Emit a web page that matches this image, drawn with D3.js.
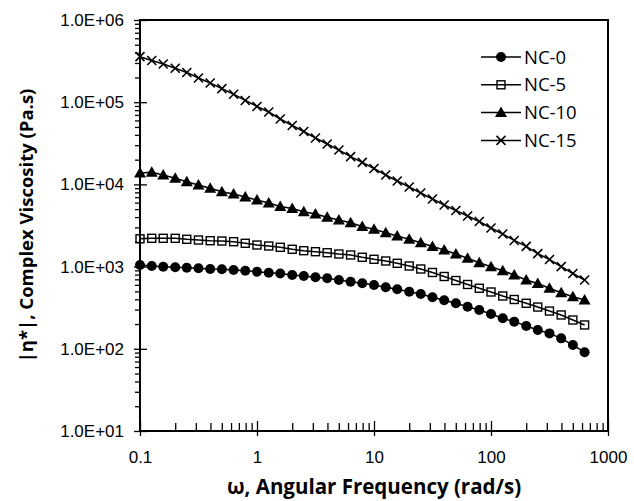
<!DOCTYPE html>
<html>
<head>
<meta charset="utf-8">
<style>
    body { margin: 0; background: #fff; }
    svg { display: block; font-family: "Open Sans", sans-serif; }
    .tick text { font-size: 17px; fill: #000; }
    .domain { display: none; }
    .tick line { stroke: #000; stroke-width: 1.3; }
    .legend text { font-size: 18.5px; }
    .axis-title { font-size: 18.5px; font-weight: bold; }
    .x-title { font-size: 20.5px; }
</style>
</head>
<body>
<svg width="634" height="501"></svg>
<script src="https://d3js.org/d3.v7.min.js"></script>
<script>
    // angular frequency, rad/s
    let omega = [0.1, 0.126, 0.158, 0.2, 0.251, 0.316, 0.398, 0.501, 0.631, 0.794,
        1, 1.26, 1.58, 2, 2.51, 3.16, 3.98, 5.01, 6.31, 7.94,
        10, 12.6, 15.8, 20, 25.1, 31.6, 39.8, 50.1, 63.1, 79.4,
        100, 126, 158, 200, 251, 316, 398, 501, 631]

    // complex viscosity, Pa.s
    let nc0 = [1046, 1017, 997, 981, 970, 954, 935, 927, 909, 892,
        867, 843, 824, 790, 768, 741, 721, 687, 655, 626,
        597, 560, 529, 495, 464, 423, 389, 358, 325, 296,
        265, 235, 214, 189, 169, 154, 134, 111, 91]
    let nc5 = [2178, 2209, 2209, 2209, 2148, 2106, 2066, 2048, 2009, 1921,
        1831, 1781, 1717, 1624, 1561, 1518, 1476, 1423, 1384, 1298,
        1227, 1170, 1097, 1017, 935, 848, 758, 677, 606, 545,
        491, 439, 398, 358, 322, 288, 258, 224, 195]
    let nc10 = [13760, 14040, 13010, 11870, 10790, 9833, 8965, 8150, 7642, 7026,
        6460, 5938, 5385, 5091, 4655, 4363, 3979, 3688, 3421, 3074,
        2843, 2584, 2357, 2148, 1953, 1756, 1592, 1423, 1262, 1115,
        997, 892, 790, 687, 623, 545, 481, 430, 392]
    let nc15 = [358000, 322000, 292000, 259000, 230000, 197000, 171000, 146000, 125000, 105000,
        88700, 76000, 62500, 52100, 44000, 36700, 31000, 26200, 21800, 18500,
        15600, 13000, 11000, 9300, 7860, 6650, 5620, 4810, 4130, 3540,
        2950, 2490, 2080, 1760, 1440, 1220, 1000, 824, 687]

    let seriesNames = ["NC-0", "NC-5", "NC-10", "NC-15"]
    let seriesValues = [nc0, nc5, nc10, nc15]
    let seriesMarkers = ["circle", "square", "triangle", "cross"]

    let xTicks = [0.1, 1, 10, 100, 1000]
    let xTickLabels = ["0.1", "1", "10", "100", "1000"]
    let yTicks = [1e1, 1e2, 1e3, 1e4, 1e5, 1e6]
    let yTickLabels = ["1.0E+01", "1.0E+02", "1.0E+03", "1.0E+04", "1.0E+05", "1.0E+06"]

    let margin = { top: 20, right: 26, bottom: 70, left: 140 }
    let width = 634
    let height = 501

    let svg = d3.select("svg")

    let x = d3.scaleLog()
        .domain([0.1, 1000])
        .range([margin.left, width - margin.right])

    let y = d3.scaleLog()
        .domain([10, 1e6])
        .range([height - margin.bottom, margin.top])

    // minor ticks 2..9 for every decade
    let minorOf = (lo, hi) => {
        let out = []
        for (let p = lo; p < hi; p++) {
            for (let k = 2; k <= 9; k++) out.push(k * Math.pow(10, p))
        }
        return out
    }

    let bottom = height - margin.bottom

    // x axis: labels + outer part of major ticks
    svg.append("g")
        .attr("class", "x axis")
        .attr("transform", `translate(0,${bottom})`)
        .call(d3.axisBottom(x).tickValues(xTicks).tickFormat((d, i) => xTickLabels[i])
            .tickSize(5).tickPadding(15))
    svg.append("g")
        .attr("class", "x axis")
        .attr("transform", `translate(0,${bottom})`)
        .call(d3.axisBottom(x).tickValues(xTicks).tickFormat("").tickSize(-10))
    svg.append("g")
        .attr("class", "x axis minor")
        .attr("transform", `translate(0,${bottom})`)
        .call(d3.axisBottom(x).tickValues(minorOf(-1, 3)).tickFormat("").tickSize(-8))

    // y axis
    svg.append("g")
        .attr("class", "y axis")
        .attr("transform", `translate(${margin.left},0)`)
        .call(d3.axisLeft(y).tickValues(yTicks).tickFormat((d, i) => yTickLabels[i])
            .tickSize(6).tickPadding(10))
    svg.append("g")
        .attr("class", "y axis")
        .attr("transform", `translate(${margin.left},0)`)
        .call(d3.axisLeft(y).tickValues(yTicks).tickFormat("").tickSize(-7))
    svg.append("g")
        .attr("class", "y axis minor")
        .attr("transform", `translate(${margin.left},0)`)
        .call(d3.axisLeft(y).tickValues(minorOf(1, 6)).tickFormat("").tickSize(5))

    // plot frame
    svg.append("rect")
        .attr("x", margin.left)
        .attr("y", margin.top)
        .attr("width", width - margin.right - margin.left)
        .attr("height", bottom - margin.top)
        .attr("fill", "none")
        .attr("stroke", "#000")
        .attr("stroke-width", 2)

    // marker drawing
    function drawMarker(g, type) {
        if (type == "circle") {
            g.append("circle").attr("r", 5).attr("fill", "#000")
        } else if (type == "square") {
            g.append("rect").attr("x", -4).attr("y", -4).attr("width", 8).attr("height", 8)
                .attr("fill", "none").attr("stroke", "#000").attr("stroke-width", 1.4)
        } else if (type == "triangle") {
            g.append("path").attr("d", "M0,-6L6,4.5L-6,4.5Z").attr("fill", "#000")
        } else {
            g.append("path").attr("d", "M-4.5,-4.5L4.5,4.5M-4.5,4.5L4.5,-4.5")
                .attr("stroke", "#000").attr("stroke-width", 1.6)
        }
    }

    let line = d3.line()
        .x(d => x(d.w))
        .y(d => y(d.v))

    seriesNames.forEach(function (name, s) {
        let data = omega.map((w, i) => ({ w: w, v: seriesValues[s][i] }))
        svg.append("path")
            .datum(data)
            .attr("fill", "none")
            .attr("stroke", "#000")
            .attr("stroke-width", 1.5)
            .attr("d", line)

        svg.append("g")
            .selectAll("g")
            .data(data)
            .join("g")
            .attr("transform", d => `translate(${x(d.w)},${y(d.v)})`)
            .each(function () { drawMarker(d3.select(this), seriesMarkers[s]) })
    })

    // legend
    let legend = svg.append("g").attr("class", "legend")
    seriesNames.forEach(function (name, s) {
        let ly = 57 + s * 27.8
        legend.append("line")
            .attr("x1", 481).attr("x2", 521)
            .attr("y1", ly).attr("y2", ly)
            .attr("stroke", "#000").attr("stroke-width", 1.5)
        let m = legend.append("g").attr("transform", `translate(501,${ly})`)
        drawMarker(m, seriesMarkers[s])
        legend.append("text")
            .attr("x", 524)
            .attr("y", ly)
            .attr("dy", "0.36em")
            .text(name)
    })

    // axis titles
    svg.append("text")
        .attr("class", "axis-title x-title")
        .attr("x", (margin.left + width - margin.right) / 2)
        .attr("y", 494)
        .attr("text-anchor", "middle")
        .text("ω, Angular Frequency (rad/s)")

    svg.append("text")
        .attr("class", "axis-title")
        .attr("transform", `translate(33,${(margin.top + bottom) / 2}) rotate(-90)`)
        .attr("text-anchor", "middle")
        .text("|η*|, Complex Viscosity (Pa.s)")
</script>
</body>
</html>
